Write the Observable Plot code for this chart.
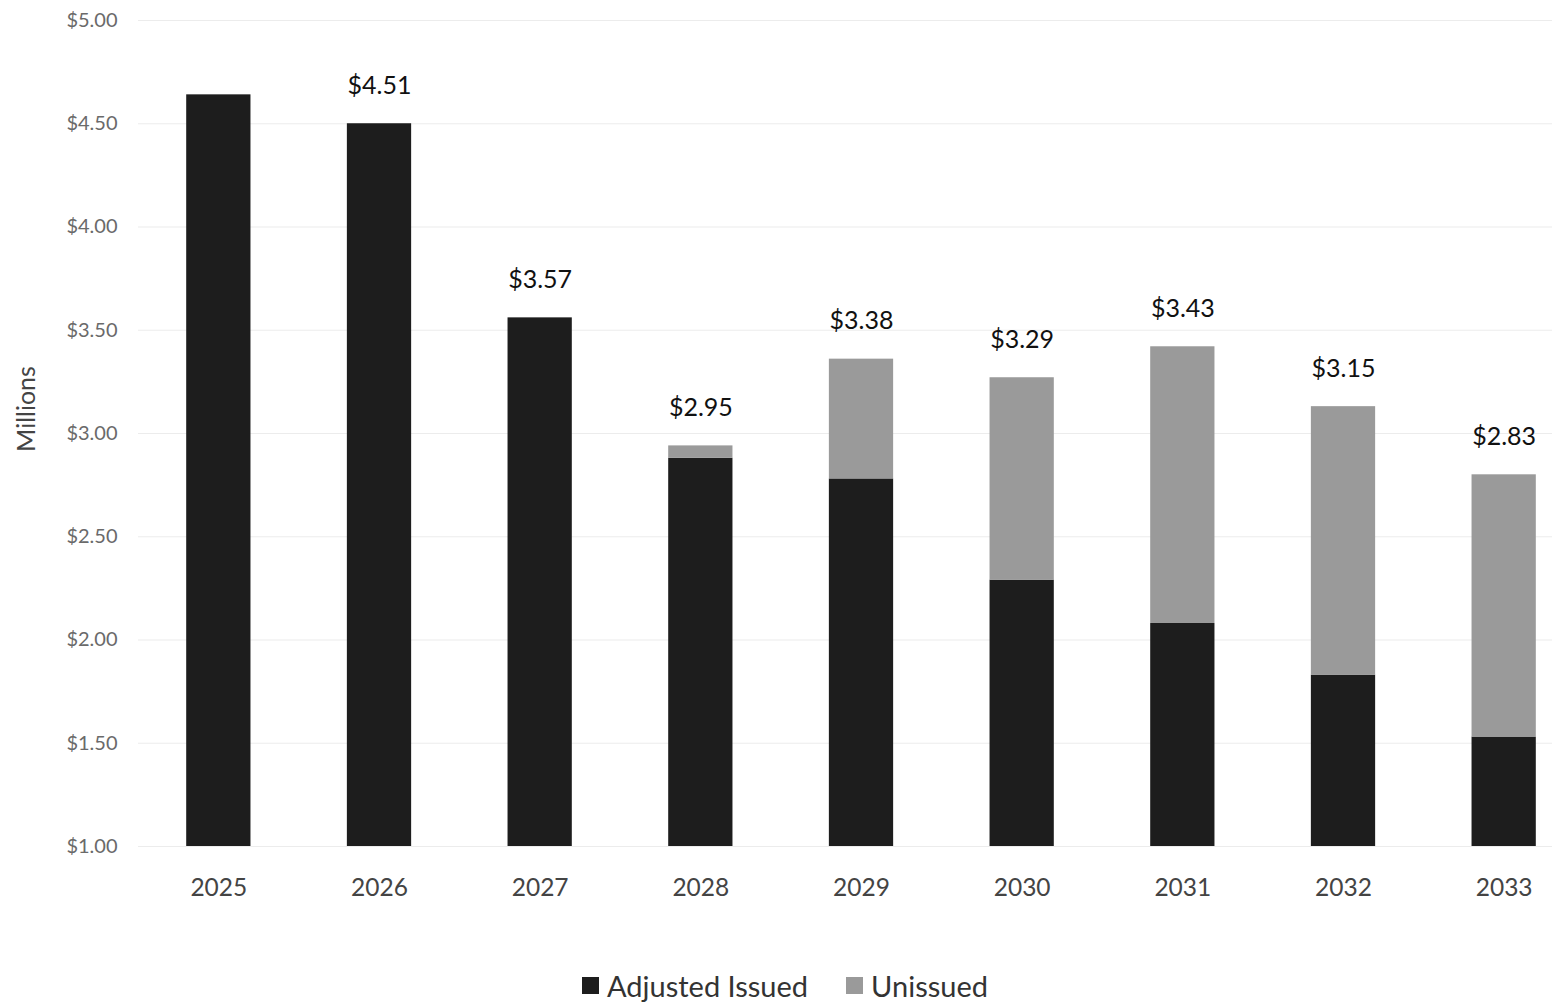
<!DOCTYPE html>
<html>
<head>
<meta charset="utf-8">
<script src="https://cdn.jsdelivr.net/npm/d3@7"></script>
<script src="https://cdn.jsdelivr.net/npm/@observablehq/plot@0.6"></script>
<style>
  html, body { margin: 0; padding: 0; background: #fff; }
  #wrap { position: relative; width: 1552px; height: 1005px; font-family: Lato, "Open Sans", sans-serif; }
  #ylabel { position: absolute; left: 25px; top: 409px; transform: translate(-50%, -50%) rotate(-90deg); font-size: 25px; color: #444; white-space: nowrap; }
  #legend { position: absolute; left: 0; width: 1552px; top: 968px; display: flex; justify-content: center; gap: 38px; font-size: 29px; color: #333; padding-left: 18px; box-sizing: border-box; }
  #legend span.item { display: inline-flex; align-items: center; }
  #legend span.sw { display: inline-block; width: 17px; height: 17px; margin-right: 8px; }
</style>
</head>
<body>
<div id="wrap">
  <div id="chart"></div>
  <div id="ylabel">Millions</div>
  <div id="legend"></div>
</div>
<script>
const years = ["2025", "2026", "2027", "2028", "2029", "2030", "2031", "2032", "2033"];
const issued = [4.64, 4.50, 3.56, 2.88, 2.78, 2.29, 2.08, 1.83, 1.53];
const unissued = [0, 0, 0, 0.06, 0.58, 0.98, 1.34, 1.30, 1.27];
const totalLabels = ["", "$4.51", "$3.57", "$2.95", "$3.38", "$3.29", "$3.43", "$3.15", "$2.83"];
const seriesNames = ["Adjusted Issued", "Unissued"];
const seriesColors = ["#1d1d1d", "#9a9a9a"];
const yTicks = [1, 1.5, 2, 2.5, 3, 3.5, 4, 4.5, 5];

const rows = [];
years.forEach((y, i) => {
  rows.push({year: y, series: seriesNames[0], value: issued[i] - 1});
  rows.push({year: y, series: seriesNames[1], value: unissued[i]});
});
const totals = years.map((y, i) => ({year: y, total: issued[i] + unissued[i], label: totalLabels[i]}));

const chart = Plot.plot({
  width: 1552,
  height: 930,
  marginTop: 20,
  marginBottom: 84,
  marginLeft: 138,
  marginRight: 0,
  style: {fontFamily: "Lato, 'Open Sans', sans-serif", background: "#fff"},
  x: {domain: years, range: [138, 1584], paddingInner: 0.6, paddingOuter: 0.3, round: false},
  y: {domain: [1, 5]},
  color: {domain: seriesNames, range: seriesColors},
  marks: [
    Plot.gridY(yTicks, {stroke: "#ececec", strokeOpacity: 1, strokeWidth: 1.2}),
    Plot.barY(rows, {
      x: "year",
      y1: (d) => {
        const i = years.indexOf(d.year);
        return d.series === seriesNames[0] ? 1 : issued[i];
      },
      y2: (d) => {
        const i = years.indexOf(d.year);
        return d.series === seriesNames[0] ? issued[i] : issued[i] + unissued[i];
      },
      fill: "series",
      filter: (d) => d.value > 0
    }),
    Plot.text(totals, {x: "year", y: "total", text: "label", dy: -38, fontSize: 25, fill: "#111"}),
    Plot.axisY({ticks: yTicks, tickFormat: (d) => "$" + d.toFixed(2), tickSize: 0, tickPadding: 21, fontSize: 20, fill: "#6a6a6a", label: null}),
    Plot.axisX({tickSize: 0, tickPadding: 32, fontSize: 24.5, fill: "#444", label: null})
  ]
});
document.getElementById("chart").appendChild(chart);

const legend = document.getElementById("legend");
seriesNames.forEach((name, i) => {
  const item = document.createElement("span");
  item.className = "item";
  const sw = document.createElement("span");
  sw.className = "sw";
  sw.style.background = seriesColors[i];
  item.appendChild(sw);
  item.appendChild(document.createTextNode(name));
  legend.appendChild(item);
});
</script>
</body>
</html>
